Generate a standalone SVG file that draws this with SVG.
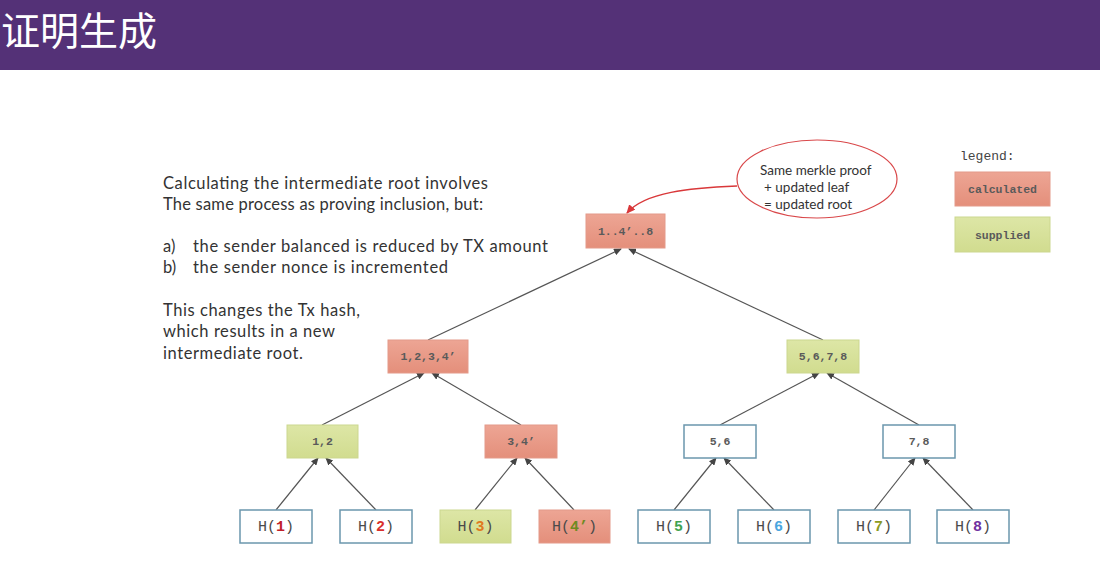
<svg xmlns="http://www.w3.org/2000/svg" width="1100" height="581" viewBox="0 0 1100 581">
  <defs>
    <linearGradient id="gCalc" x1="0" y1="0" x2="0" y2="1">
      <stop offset="0" stop-color="#eda594"/>
      <stop offset="1" stop-color="#e48f7b"/>
    </linearGradient>
    <linearGradient id="gSupp" x1="0" y1="0" x2="0" y2="1">
      <stop offset="0" stop-color="#dde6a6"/>
      <stop offset="1" stop-color="#d1dc8f"/>
    </linearGradient>
    <marker id="arr" markerWidth="8" markerHeight="7" refX="7" refY="3.5" orient="auto" markerUnits="userSpaceOnUse">
      <path d="M0,0 L8,3.5 L0,7 z" fill="#444"/>
    </marker>
    <marker id="arrRed" markerWidth="9" markerHeight="8" refX="8" refY="4" orient="auto" markerUnits="userSpaceOnUse">
      <path d="M0,0 L9,4 L0,8 z" fill="#d9383a"/>
    </marker>
  </defs>
  <style>
    .calc { fill: url(#gCalc); stroke: #e49a8a; stroke-width: 1; }
    .supp { fill: url(#gSupp); stroke: #ccd78f; stroke-width: 1; }
    .plain { fill: #ffffff; stroke: #6b97ad; stroke-width: 1.5; }
    .lbl { font-family: "Liberation Mono", "DejaVu Sans Mono", monospace; font-weight: bold; fill: #5a5a5a; text-anchor: middle; }
    .small { font-size: 11.5px; }
    .leaf { font-size: 15px; font-weight: normal; fill: #4a4a4a; }
    .dig { font-weight: bold; }
    .body { font-family: Lato, "Open Sans", sans-serif; font-size: 16.5px; fill: #333; }
    .note { font-family: Lato, "Open Sans", sans-serif; font-size: 13.5px; fill: #333; }
    .edge { stroke: #555; stroke-width: 1.2; fill: none; marker-end: url(#arr); }
  </style>

  <!-- title bar -->
  <rect x="0" y="0" width="1100" height="70" fill="#543177"/>
  <text x="1" y="45" font-family="'Noto Sans CJK SC', sans-serif" font-size="39" fill="#ffffff">证明生成</text>
  <rect x="0" y="70" width="1100" height="511" fill="#ffffff"/>

  <!-- explanation text -->
  <g id="explanation">
    <text class="body" x="163" y="189" textLength="325">Calculating the intermediate root involves</text>
    <text class="body" x="163" y="210" textLength="320">The same process as proving inclusion, but:</text>
    <text class="body" x="163" y="252">a)</text>
    <text class="body" x="193" y="252" textLength="355">the sender balanced is reduced by TX amount</text>
    <text class="body" x="163" y="273">b)</text>
    <text class="body" x="193" y="273" textLength="255">the sender nonce is incremented</text>
    <text class="body" x="163" y="316" textLength="197">This changes the Tx hash,</text>
    <text class="body" x="163" y="337" textLength="172">which results in a new</text>
    <text class="body" x="163" y="359" textLength="140">intermediate root.</text>
  </g>

  <!-- connectors -->
  <g id="connectors">
    <line class="edge" x1="428" y1="340" x2="621" y2="249"/>
    <line class="edge" x1="823" y1="340" x2="629" y2="249"/>
    <line class="edge" x1="322" y1="425" x2="424" y2="373"/>
    <line class="edge" x1="521" y1="425" x2="432" y2="373"/>
    <line class="edge" x1="720" y1="425" x2="819" y2="373"/>
    <line class="edge" x1="919" y1="425" x2="827" y2="373"/>
    <line class="edge" x1="276" y1="510" x2="318" y2="458"/>
    <line class="edge" x1="376" y1="510" x2="326" y2="458"/>
    <line class="edge" x1="475" y1="510" x2="517" y2="458"/>
    <line class="edge" x1="574" y1="510" x2="525" y2="458"/>
    <line class="edge" x1="674" y1="510" x2="716" y2="458"/>
    <line class="edge" x1="774" y1="510" x2="724" y2="458"/>
    <line class="edge" x1="874" y1="510" x2="915" y2="458"/>
    <line class="edge" x1="973" y1="510" x2="923" y2="458"/>
    <path d="M737,186 C690,188 645,192 627,213" stroke="#d9383a" stroke-width="1.5" fill="none" marker-end="url(#arrRed)"/>
  </g>

  <!-- callout -->
  <g id="callout">
    <ellipse cx="817" cy="179" rx="80" ry="39" fill="#ffffff" stroke="#d9484a" stroke-width="1.2"/>
    <text class="note" x="760" y="175">Same merkle proof</text>
    <text class="note" x="764" y="192">+ updated leaf</text>
    <text class="note" x="764" y="209">= updated root</text>
  </g>

  <!-- tree nodes -->
  <g id="root">
    <rect class="calc" x="586" y="214" width="79" height="34"/>
    <text class="lbl small" x="625.5" y="235">1..4’..8</text>
  </g>
  <g id="n1234">
    <rect class="calc" x="388" y="340" width="80" height="33"/>
    <text class="lbl small" x="428" y="360">1,2,3,4’</text>
  </g>
  <g id="n5678">
    <rect class="supp" x="787" y="340" width="72" height="33"/>
    <text class="lbl small" x="823" y="360">5,6,7,8</text>
  </g>
  <g id="n12">
    <rect class="supp" x="287" y="425" width="71" height="33"/>
    <text class="lbl small" x="322.5" y="445">1,2</text>
  </g>
  <g id="n34">
    <rect class="calc" x="485" y="425" width="72" height="33"/>
    <text class="lbl small" x="521" y="445">3,4’</text>
  </g>
  <g id="n56">
    <rect class="plain" x="684" y="425" width="72" height="33"/>
    <text class="lbl small" x="720" y="445">5,6</text>
  </g>
  <g id="n78">
    <rect class="plain" x="883" y="425" width="72" height="33"/>
    <text class="lbl small" x="919" y="445">7,8</text>
  </g>

  <!-- leaves -->
  <g id="h1">
    <rect class="plain" x="240" y="510" width="72" height="33"/>
    <text class="lbl leaf" x="276" y="531">H(<tspan class="dig" fill="#c0202a">1</tspan>)</text>
  </g>
  <g id="h2">
    <rect class="plain" x="340" y="510" width="72" height="33"/>
    <text class="lbl leaf" x="376" y="531">H(<tspan class="dig" fill="#d9302c">2</tspan>)</text>
  </g>
  <g id="h3">
    <rect class="supp" x="440" y="510" width="71" height="33"/>
    <text class="lbl leaf" x="475.5" y="531">H(<tspan class="dig" fill="#e07a22">3</tspan>)</text>
  </g>
  <g id="h4">
    <rect class="calc" x="539" y="510" width="71" height="33"/>
    <text class="lbl leaf" x="574.5" y="531">H(<tspan class="dig" fill="#6e8a22">4’</tspan>)</text>
  </g>
  <g id="h5">
    <rect class="plain" x="638" y="510" width="72" height="33"/>
    <text class="lbl leaf" x="674" y="531">H(<tspan class="dig" fill="#3fa34f">5</tspan>)</text>
  </g>
  <g id="h6">
    <rect class="plain" x="738" y="510" width="72" height="33"/>
    <text class="lbl leaf" x="774" y="531">H(<tspan class="dig" fill="#4aa6e0">6</tspan>)</text>
  </g>
  <g id="h7">
    <rect class="plain" x="838" y="510" width="72" height="33"/>
    <text class="lbl leaf" x="874" y="531">H(<tspan class="dig" fill="#8c9a22">7</tspan>)</text>
  </g>
  <g id="h8">
    <rect class="plain" x="937" y="510" width="72" height="33"/>
    <text class="lbl leaf" x="973" y="531">H(<tspan class="dig" fill="#7030a0">8</tspan>)</text>
  </g>

  <!-- legend -->
  <g id="legend">
    <text x="960" y="160" font-family="'Liberation Mono', monospace" font-size="13" fill="#444">legend:</text>
    <rect class="calc" x="955" y="172" width="95" height="34"/>
    <text class="lbl small" x="1002.5" y="193">calculated</text>
    <rect class="supp" x="955" y="217" width="95" height="35"/>
    <text class="lbl small" x="1002.5" y="239">supplied</text>
  </g>
</svg>
